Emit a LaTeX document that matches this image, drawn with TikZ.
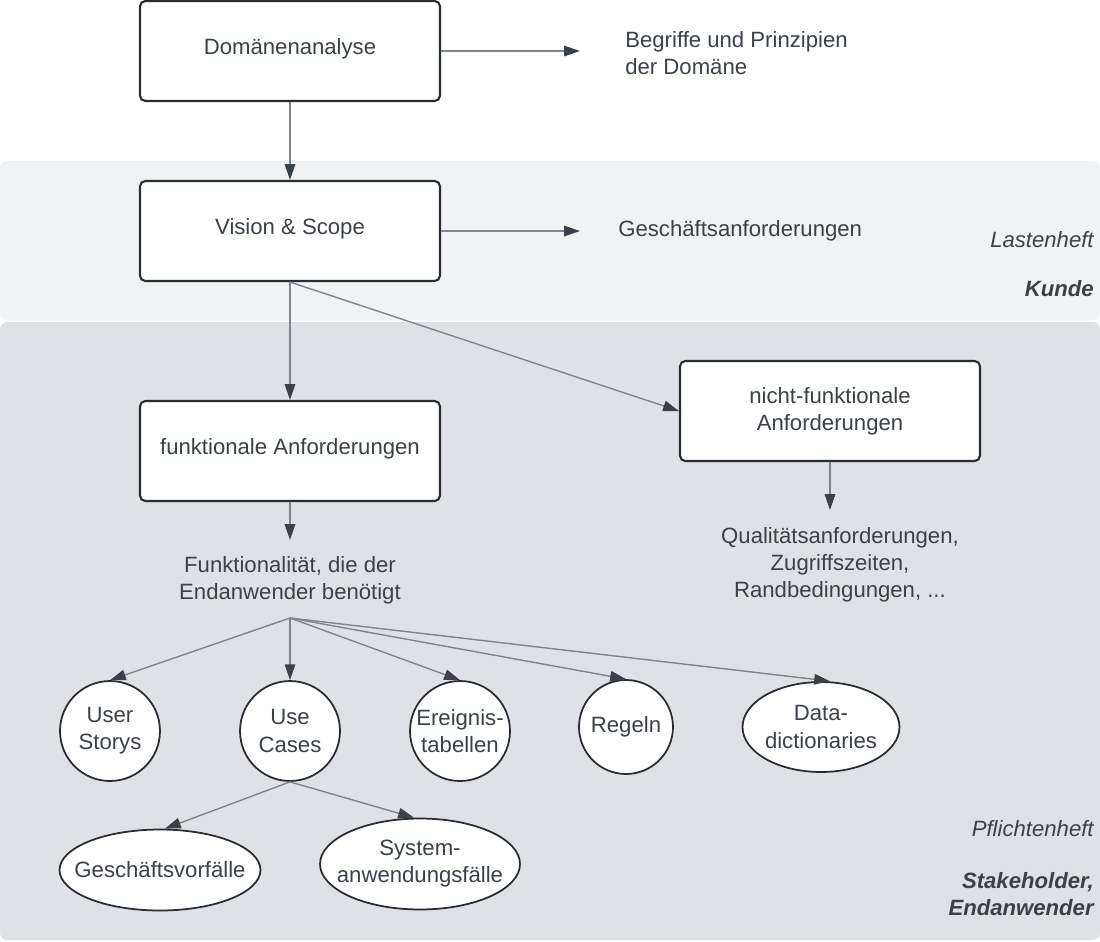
\documentclass[tikz,border=0pt]{standalone}
\usepackage{fontspec}
\setmainfont{Liberation Sans}
\usetikzlibrary{arrows.meta,shapes.geometric}
\definecolor{ink}{HTML}{3A414A}
\definecolor{frame}{HTML}{282C33}
\definecolor{wire}{HTML}{7F858D}
\definecolor{tipfill}{HTML}{3A414A}
\definecolor{bandlight}{HTML}{F1F2F4}
\definecolor{banddark}{HTML}{DFE1E6}
\newcommand{\txtsize}{\fontsize{12.6}{15.4}\selectfont}
\begin{document}
\begin{tikzpicture}[x=0.02cm,y=-0.02cm,
  every node/.style={text=ink, font=\txtsize},
  procbox/.style={draw=frame, line width=1.2pt, fill=white, rounded corners=3pt,
    minimum width=6cm, minimum height=2cm, align=center},
  upshift/.style={text depth=4.8pt},
  blob/.style={ellipse, draw=frame, line width=1pt, fill=white, inner xsep=-2cm,
    inner ysep=0pt, align=center},
  plain/.style={align=center, inner sep=0pt},
  side/.style={anchor=east, align=right, inner sep=0pt},
  conn/.style={draw=wire, line width=0.8pt,
    -{Triangle[length=9pt, width=6pt, fill=tipfill, color=tipfill]}},
  band/.style={rounded corners=4pt, draw=none}
]
% canvas and the two swim bands
\useasboundingbox (0,0) rectangle (1100,941);
\fill[white] (0,0) rectangle (1100,941);
\fill[band, fill=bandlight] (0,161) rectangle (1100,320);
\fill[band, fill=banddark] (0,322) rectangle (1100,940);

% band labels
\node[side, font=\txtsize\itshape] (lasten) at (1094,240) {Lastenheft};
\node[side, font=\txtsize\bfseries\itshape] (kunde) at (1094,289) {Kunde};
\node[side, font=\txtsize\itshape] (pflicht) at (1094,829) {Pflichtenheft};
\node[side, font=\txtsize\bfseries\itshape] (stake) at (1094,894) {Stakeholder,\\Endanwender};

% process boxes
\node[procbox, upshift] (dom) at (290,51) {Domänenanalyse};
\node[procbox, upshift] (vis) at (290,231) {Vision \& Scope};
\node[procbox, upshift] (func) at (290,451) {funktionale Anforderungen};
\node[procbox] (nf) at (830,411) {nicht-funktionale\\Anforderungen};

% free text results
\node[anchor=west, align=left, inner sep=0pt] (begr) at (625,53) {Begriffe und Prinzipien\\der Domäne};
\node[anchor=west, inner sep=0pt] (gesch) at (618,231) {Geschäftsanforderungen};
\node[plain] (qual) at (840,565) {Qualitätsanforderungen,\\Zugriffszeiten,\\Randbedingungen, ...};
\node[plain] (fkt) at (290,580) {Funktionalität, die der\\Endanwender benötigt};

% artefacts
\node[blob, minimum width=2cm, minimum height=2cm] (us) at (110,731) {User\\Storys};
\node[blob, minimum width=2cm, minimum height=2cm] (uc) at (290,731) {Use\\Cases};
\node[blob, minimum width=2cm, minimum height=2cm] (er) at (460,731) {Ereignis-\\tabellen};
\node[blob, minimum width=1.88cm, minimum height=1.88cm] (reg) at (626,727) {Regeln};
\node[blob, minimum width=3.14cm, minimum height=1.8cm] (dd) at (821,727) {Data-\\dictionaries};
\node[blob, minimum width=4.02cm, minimum height=1.62cm] (gv) at (160,870) {Geschäftsvorfälle};
\node[blob, minimum width=4cm, minimum height=1.82cm] (sys) at (420,864) {System-\\anwendungsfälle};

% free connector ends
\coordinate (domout) at (580,51);
\coordinate (visout) at (580,231);
\coordinate (nfout) at (830,510);
\coordinate (funcout) at (290,540);
\coordinate (hub) at (290,618);

% connectors
\draw[conn] (dom.east) -- (domout);
\draw[conn] (dom.south) -- (vis.north);
\draw[conn] (vis.east) -- (visout);
\draw[conn] (vis.south) -- (func.north);
\draw[conn] (vis.south) -- (nf.west);
\draw[conn] (nf.south) -- (nfout);
\draw[conn] (func.south) -- (funcout);
\draw[conn] (hub) -- (us.north);
\draw[conn] (hub) -- (uc.north);
\draw[conn] (hub) -- (er.north);
\draw[conn] (hub) -- (reg.north);
\draw[conn] (hub) -- ([xshift=0.18cm]dd.north);
\draw[conn] (uc.south) -- ([xshift=0.1cm]gv.north);
\draw[conn] (uc.south) -- ([xshift=-0.12cm]sys.north);
\end{tikzpicture}
\end{document}
